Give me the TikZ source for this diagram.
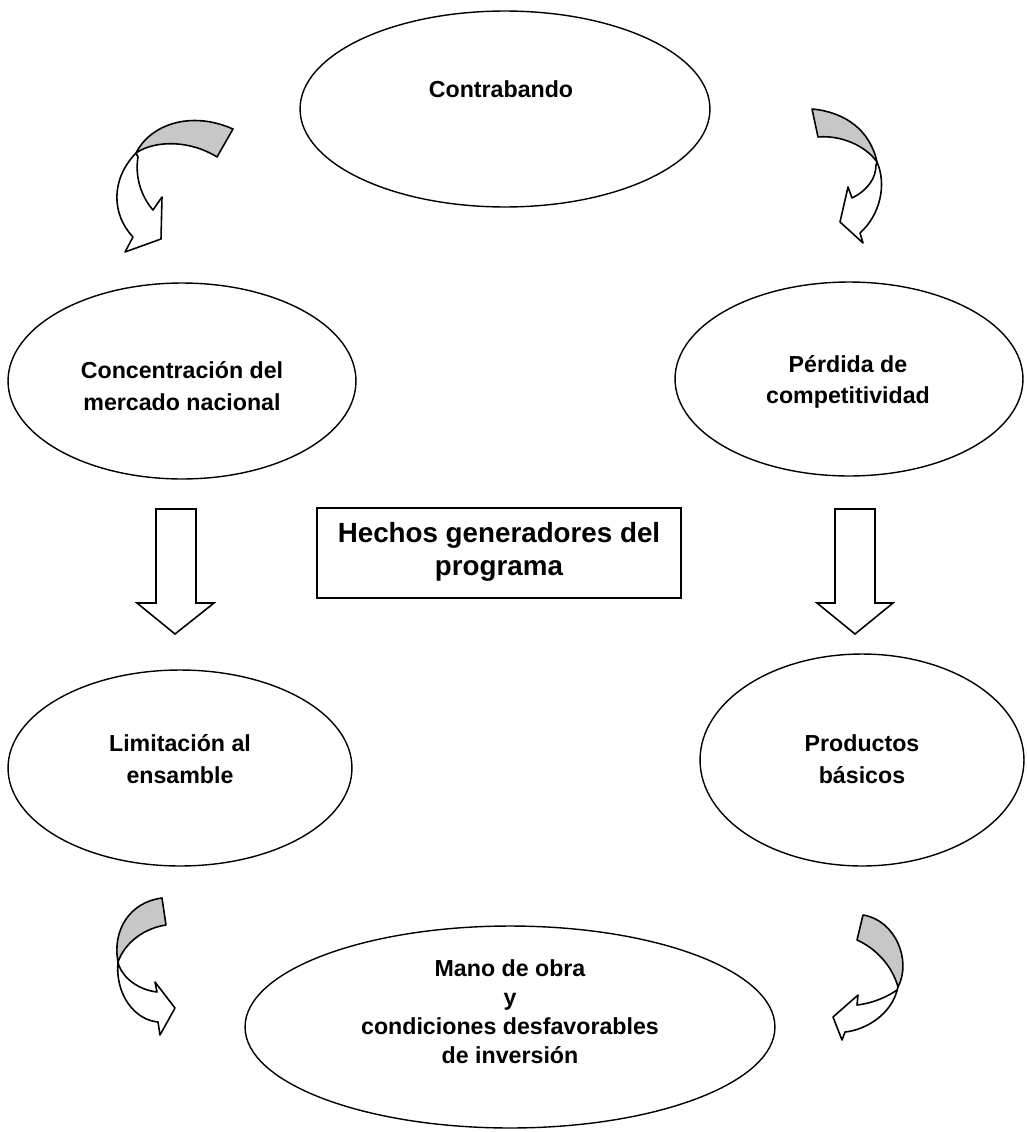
\documentclass[tikz,border=0pt]{standalone}
\usepackage{fontspec}
\setmainfont{Liberation Sans}
\usetikzlibrary{shapes.geometric}
\tikzset{
  ell/.style={draw=black, line width=0.8pt, ellipse, inner sep=0pt},
  txt/.style={align=center, font=\bfseries\fontsize{13.2}{18}\selectfont, inner sep=0pt},
  txtm/.style={align=center, font=\bfseries\fontsize{13.2}{16.5}\selectfont, inner sep=0pt},
  boxtxt/.style={align=center, font=\bfseries\fontsize{15.8}{18.8}\selectfont, inner sep=0pt},
  band/.style={draw=black, line width=0.9pt, fill=black!22, line join=round},
  body/.style={draw=black, line width=0.9pt, fill=white, line join=round},
  blockarrow/.style={draw=black, line width=0.9pt, fill=white, line join=miter},
}
\begin{document}
\begin{tikzpicture}[x={(0.02cm,0)}, y={(0,-0.02cm)}]
\useasboundingbox (0,0) rectangle (1027,1132);
\fill[white] (0,0) rectangle (1027,1132);

% ellipses
\node[ell, minimum width=8.2cm, minimum height=3.92cm] (contra) at (505,109) {};
\node[txt] (tcontra) at (501,89) {Contrabando};

\node[ell, minimum width=6.96cm, minimum height=3.92cm] (conc) at (182,381) {};
\node[txt] (tconc) at (182,386) {Concentración del\\mercado nacional};

\node[ell, minimum width=6.96cm, minimum height=3.88cm] (perd) at (849,379) {};
\node[txt] (tperd) at (848,382) {Pérdida de\\competitividad};

\node[ell, minimum width=6.88cm, minimum height=3.92cm] (limit) at (180,768) {};
\node[txt] (tlimit) at (180,759) {Limitación al\\ensamble};

\node[ell, minimum width=6.48cm, minimum height=4.24cm] (prod) at (862,760) {};
\node[txt] (tprod) at (862,759) {Productos\\básicos};

\node[ell, minimum width=10.6cm, minimum height=4.04cm] (mano) at (510,1027) {};
\node[txtm] (tmano) at (510,1012) {Mano de obra\\y\\condiciones desfavorables\\de inversión};

% central box
\node[draw=black, line width=0.9pt, minimum width=7.28cm, minimum height=1.8cm, inner sep=0pt] (box) at (499,553) {};
\node[boxtxt] (tbox) at (499,552) {Hechos generadores del\\programa};

% straight block arrows
\draw[blockarrow] (156,509) -- (196,509) -- (196,603) -- (214,603) -- (175,634) -- (137,603) -- (156,603) -- cycle;
\draw[blockarrow] (835,509) -- (875,509) -- (875,603) -- (893,603) -- (855,634) -- (817,603) -- (835,603) -- cycle;

% curved arrow top-left
\draw[body] (136,153) .. controls (110,180) and (112,215) .. (133,237) -- (125,252) -- (161,239) -- (162,197) -- (153,210) .. controls (140,195) and (135,175) .. (138,157) -- cycle;
\draw[band] (136,153) .. controls (150,125) and (190,110) .. (233,129) -- (217,157) .. controls (190,140) and (155,140) .. (136,153) -- cycle;

% curved arrow top-right
\draw[body] (877,162) .. controls (887,185) and (880,215) .. (860,233) -- (863,243) -- (840,222) -- (848,187) -- (852,198) .. controls (868,190) and (876,178) .. (876,165) -- cycle;
\draw[band] (812,109) .. controls (845,112) and (870,130) .. (877,162) .. controls (865,145) and (840,135) .. (818,137) -- cycle;

% curved arrow bottom-left
\draw[body] (118,962) .. controls (115,995) and (135,1020) .. (158,1022) -- (160,1035) -- (175,1008) -- (155,982) -- (157,992) .. controls (140,990) and (125,980) .. (119,966) -- cycle;
\draw[band] (162,898) .. controls (130,902) and (112,930) .. (118,962) .. controls (125,942) and (145,928) .. (166,925) -- cycle;

% curved arrow bottom-right
\draw[body] (898,987) .. controls (892,1015) and (865,1030) .. (845,1032) -- (842,1040) -- (833,1017) -- (858,995) -- (857,1005) .. controls (875,1003) and (890,995) .. (897,990) -- cycle;
\draw[band] (863,915) .. controls (895,920) and (912,960) .. (898,987) .. controls (892,965) and (875,948) .. (857,940) -- cycle;
\end{tikzpicture}
\end{document}
